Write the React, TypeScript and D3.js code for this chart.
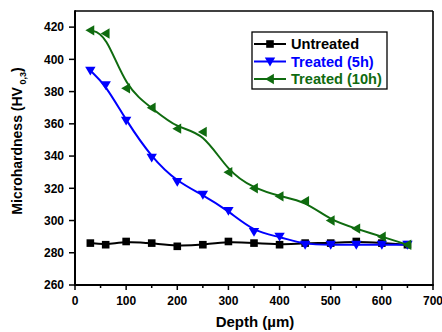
import React from "react";
import * as d3 from "d3";

const depth = [30, 60, 100, 150, 200, 250, 300, 350, 400, 450, 500, 550, 600, 650];
const untreated = [286, 285, 287, 286, 284, 285, 287, 286, 285, 286, 286, 287, 286, 285];
const treated5h = [393, 384, 362, 339, 324, 316, 306, 293, 290, 285, 285, 285, 285, 285];
const treated10h = [418, 416, 382, 370, 357, 355, 330, 320, 315, 312, 300, 295, 290, 285];
const seriesNames = ["Untreated", "Treated (5h)", "Treated (10h)"];
const xTicks = [0, 100, 200, 300, 400, 500, 600, 700];
const xMinor = [50, 150, 250, 350, 450, 550, 650];
const yTicks = [260, 280, 300, 320, 340, 360, 380, 400, 420];

const W = 442, H = 332;
const L = 75, R = 433, T = 11, B = 285;
const FONT = "Arial, 'Liberation Sans', sans-serif";

const colors = ["#000000", "#0000ff", "#0f6b0f"];
const shapes = ["square", "down", "left"];

function Marker({ shape, x, y, color }: { shape: string; x: number; y: number; color: string }) {
  if (shape === "square") {
    return <rect x={x - 3.8} y={y - 3.8} width={7.6} height={7.6} fill={color} />;
  }
  const s = 5.2;
  let pts: [number, number][];
  if (shape === "down") {
    pts = [[x - s, y - s * 0.75], [x + s, y - s * 0.75], [x, y + s * 0.95]];
  } else {
    pts = [[x - s * 0.95, y], [x + s * 0.75, y - s], [x + s * 0.75, y + s]];
  }
  return <polygon points={pts.map((p) => p.join(",")).join(" ")} fill={color} />;
}

export default function App() {
  const x = d3.scaleLinear().domain([0, 700]).range([L, R]);
  const y = d3.scaleLinear().domain([260, 430]).range([B, T]);
  const data = [untreated, treated5h, treated10h];
  const line = d3
    .line<number>()
    .x((_, i) => x(depth[i]))
    .y((v) => y(v))
    .curve(d3.curveBasis);

  const legX = 252, legY = 32, legW = 135, legH = 57;
  const rowY = [44, 61.5, 79];

  return (
    <svg width={W} height={H} style={{ position: "absolute", left: 0, top: 0, background: "#fff" }} fontFamily={FONT}>
      {data.map((d, si) => (
        <g key={si}>
          <path d={line(d) || ""} fill="none" stroke={colors[si]} strokeWidth={2} />
          {d.map((v, i) => (
            <Marker key={i} shape={shapes[si]} x={x(depth[i])} y={y(v)} color={colors[si]} />
          ))}
        </g>
      ))}
      <line x1={L} x2={R} y1={T} y2={T} stroke="#000" strokeWidth={1.6} />
      <line x1={R} x2={R} y1={T} y2={B} stroke="#000" strokeWidth={1.6} />
      <line x1={L} x2={L} y1={T - 0.8} y2={B + 1} stroke="#000" strokeWidth={2} />
      <line x1={L - 1} x2={R + 0.8} y1={B} y2={B} stroke="#000" strokeWidth={2} />
      {xTicks.map((t) => (
        <g key={t}>
          <line x1={x(t)} x2={x(t)} y1={B} y2={B + 5} stroke="#000" strokeWidth={1.5} />
          <text x={x(t)} y={305} textAnchor="middle" fontSize={12} fontWeight="bold">{t}</text>
        </g>
      ))}
      {xMinor.map((t) => (
        <line key={t} x1={x(t)} x2={x(t)} y1={B} y2={B + 3} stroke="#000" strokeWidth={1.5} />
      ))}
      {yTicks.map((t) => (
        <g key={t}>
          <line x1={L - 6} x2={L} y1={y(t)} y2={y(t)} stroke="#000" strokeWidth={1.5} />
          <text x={64} y={y(t) + 4.3} textAnchor="end" fontSize={12} fontWeight="bold">{t}</text>
        </g>
      ))}
      <text x={255} y={327} textAnchor="middle" fontSize={15} fontWeight="bold">Depth (µm)</text>
      <text transform="translate(22,141) rotate(-90)" textAnchor="middle" fontSize={14} fontWeight="bold">
        Microhardness (HV
        <tspan fontSize={9} dy={4}> 0,3</tspan>
        <tspan dy={-4}>)</tspan>
      </text>
      <rect x={legX} y={legY} width={legW} height={legH} fill="#fff" stroke="#000" strokeWidth={1.3} />
      {seriesNames.map((n, i) => (
        <g key={n}>
          <line x1={legX + 2} x2={legX + 34} y1={rowY[i]} y2={rowY[i]} stroke={colors[i]} strokeWidth={2} />
          <Marker shape={shapes[i]} x={legX + 18} y={rowY[i]} color={colors[i]} />
          <text x={legX + 39} y={rowY[i] + 5} fontSize={14.6} fontWeight="bold" fill={colors[i]}>{n}</text>
        </g>
      ))}
    </svg>
  );
}
